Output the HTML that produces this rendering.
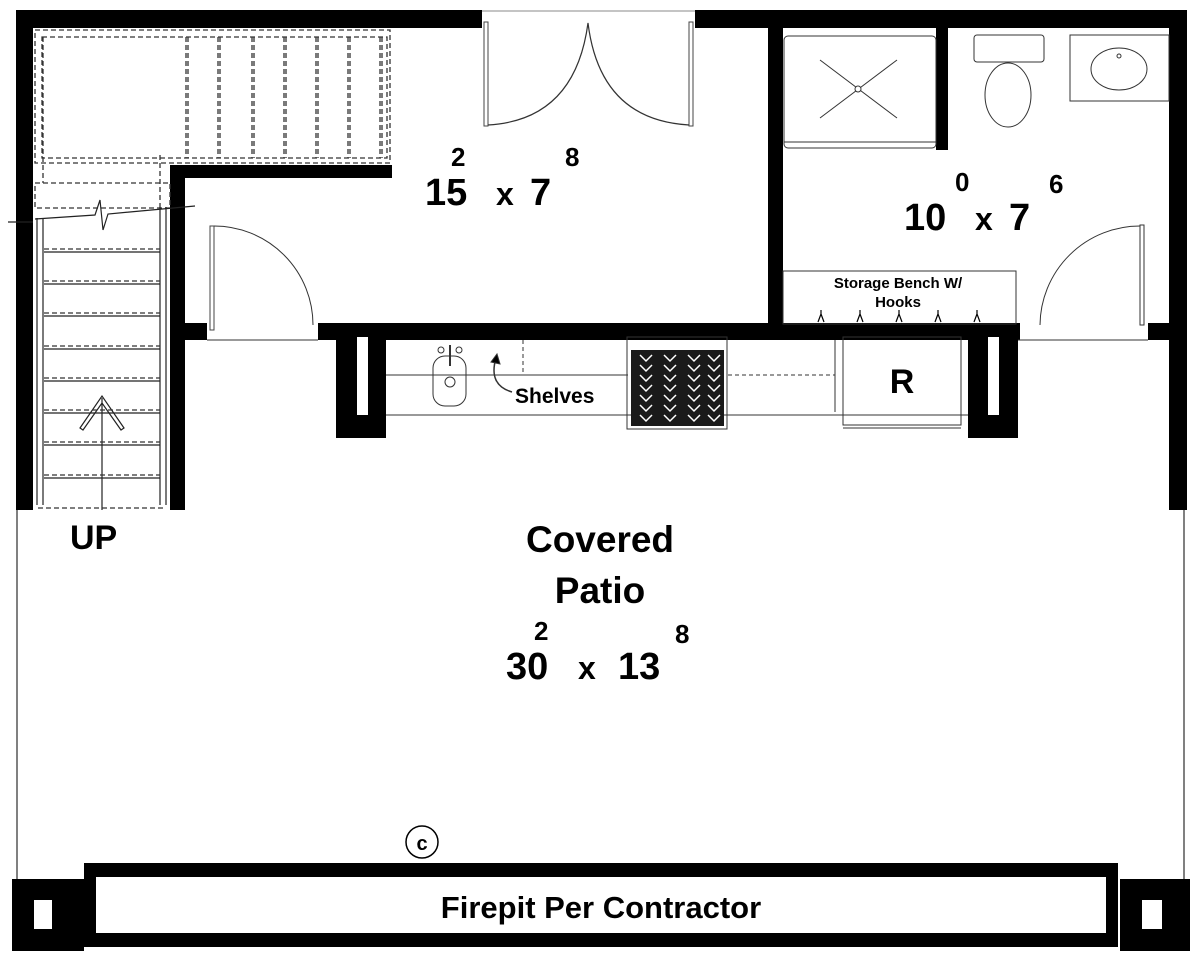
<!DOCTYPE html>
<html><head><style>
html,body{margin:0;padding:0;background:#fff}
svg{display:block}
text{font-family:"Liberation Sans",Arial,sans-serif;font-weight:bold;fill:#000}
</style></head><body>
<svg width="1200" height="962" viewBox="0 0 1200 962" xmlns="http://www.w3.org/2000/svg">
<line x1="17" y1="500" x2="17" y2="880" stroke="#000" stroke-width="1"/>
<line x1="1184" y1="500" x2="1184" y2="880" stroke="#000" stroke-width="1"/>
<rect x="16" y="10" width="466" height="18" fill="#000"/>
<rect x="695" y="10" width="492" height="18" fill="#000"/>
<rect x="16" y="10" width="17" height="500" fill="#000"/>
<rect x="1169" y="10" width="18" height="500" fill="#000"/>
<line x1="482" y1="11" x2="695" y2="11" stroke="#888" stroke-width="1"/>
<rect x="484" y="22" width="4" height="104" fill="none" stroke="#444" stroke-width="1"/>
<rect x="689" y="22" width="4" height="104" fill="none" stroke="#444" stroke-width="1"/>
<path d="M488 125 Q575 120 588 23 Q600 120 689 125" fill="none" stroke="#333" stroke-width="1.2"/>
<rect x="170" y="165" width="15" height="345" fill="#000"/>
<rect x="170" y="165" width="222" height="13" fill="#000"/>
<g fill="none" stroke="#333" stroke-width="1.3" stroke-dasharray="5,3">
<rect x="35" y="30" width="355" height="133"/>
<rect x="42" y="37" width="345" height="121"/>
<rect x="35" y="183" width="135" height="25"/>
<line x1="43" y1="37" x2="43" y2="183"/>
<line x1="160" y1="155" x2="160" y2="210"/>
<line x1="186" y1="37" x2="186" y2="158"/><line x1="188" y1="37" x2="188" y2="158"/>
<line x1="218" y1="37" x2="218" y2="158"/><line x1="220" y1="37" x2="220" y2="158"/>
<line x1="252" y1="37" x2="252" y2="158"/><line x1="254" y1="37" x2="254" y2="158"/>
<line x1="284" y1="37" x2="284" y2="158"/><line x1="286" y1="37" x2="286" y2="158"/>
<line x1="316" y1="37" x2="316" y2="158"/><line x1="318" y1="37" x2="318" y2="158"/>
<line x1="348" y1="37" x2="348" y2="158"/><line x1="350" y1="37" x2="350" y2="158"/>
<line x1="380" y1="37" x2="380" y2="158"/><line x1="382" y1="37" x2="382" y2="158"/>
</g>
<g stroke="#222" stroke-width="1.2" fill="none">
<line x1="8" y1="222" x2="33" y2="222"/>
<path d="M35 219 L95 215 L100 200 L103 230 L108 214 L195 206"/>
<line x1="37" y1="218" x2="37" y2="505"/><line x1="43" y1="218" x2="43" y2="505"/>
<line x1="160" y1="207" x2="160" y2="505"/><line x1="166" y1="207" x2="166" y2="505"/>
<line x1="44" y1="252" x2="160" y2="252"/><line x1="44" y1="284" x2="160" y2="284"/>
<line x1="44" y1="316" x2="160" y2="316"/><line x1="44" y1="349" x2="160" y2="349"/>
<line x1="44" y1="381" x2="160" y2="381"/><line x1="44" y1="413" x2="160" y2="413"/>
<line x1="44" y1="445" x2="160" y2="445"/><line x1="44" y1="478" x2="160" y2="478"/>
<line x1="102" y1="398" x2="102" y2="510"/>
<path d="M80 428 L102 396 L124 428 L121 430 L102 403 L83 430 Z"/>
</g>
<g stroke="#333" stroke-width="1.2" stroke-dasharray="5,3">
<line x1="44" y1="249" x2="160" y2="249"/><line x1="44" y1="281" x2="160" y2="281"/>
<line x1="44" y1="313" x2="160" y2="313"/><line x1="44" y1="346" x2="160" y2="346"/>
<line x1="44" y1="378" x2="160" y2="378"/><line x1="44" y1="410" x2="160" y2="410"/>
<line x1="44" y1="442" x2="160" y2="442"/><line x1="44" y1="475" x2="160" y2="475"/>
<line x1="38" y1="508" x2="166" y2="508"/>
</g>
<rect x="183" y="323" width="24" height="17" fill="#000"/>
<rect x="210" y="226" width="4" height="104" fill="none" stroke="#444"/>
<path d="M214 226 A99 99 0 0 1 313 325" fill="none" stroke="#333" stroke-width="1"/>
<line x1="207" y1="340" x2="318" y2="340" stroke="#333"/>
<rect x="318" y="323" width="702" height="17" fill="#000"/>
<rect x="336" y="323" width="50" height="115" fill="#000"/>
<rect x="357" y="337" width="11" height="78" fill="#fff"/>
<rect x="968" y="323" width="50" height="115" fill="#000"/>
<rect x="988" y="337" width="11" height="78" fill="#fff"/>
<g stroke="#333" stroke-width="1" fill="none">
<line x1="386" y1="375" x2="628" y2="375"/>
<line x1="386" y1="415" x2="968" y2="415"/>
<line x1="523" y1="340" x2="523" y2="375" stroke-dasharray="4,3"/>
<line x1="728" y1="375" x2="835" y2="375" stroke-dasharray="4,3"/>
<line x1="835" y1="340" x2="835" y2="412"/>
<rect x="433" y="356" width="33" height="50" rx="12"/>
<circle cx="450" cy="382" r="5"/>
<line x1="450" y1="345" x2="450" y2="366" stroke-width="2"/>
<circle cx="441" cy="350" r="3"/><circle cx="459" cy="350" r="3"/>
<path d="M512 392 Q488 385 496 358" stroke-width="1.5"/>
<path d="M491 362 L497 354 L500 364 Z" fill="#000"/>
<rect x="627" y="337" width="100" height="92"/>
<rect x="843" y="337" width="118" height="88"/>
<line x1="843" y1="428" x2="961" y2="428"/>
<line x1="843" y1="415" x2="961" y2="415" stroke-dasharray="4,3"/>
</g>
<rect x="631" y="350" width="93" height="76" fill="#1a1a1a"/>
<g stroke="#fff" stroke-width="1.5" fill="none">
<path d="M640 355 l6 6 l6 -6 M640 365 l6 6 l6 -6 M640 375 l6 6 l6 -6 M640 385 l6 6 l6 -6 M640 395 l6 6 l6 -6 M640 405 l6 6 l6 -6 M640 415 l6 6 l6 -6"/>
<path d="M664 355 l6 6 l6 -6 M664 365 l6 6 l6 -6 M664 375 l6 6 l6 -6 M664 385 l6 6 l6 -6 M664 395 l6 6 l6 -6 M664 405 l6 6 l6 -6 M664 415 l6 6 l6 -6"/>
<path d="M688 355 l6 6 l6 -6 M688 365 l6 6 l6 -6 M688 375 l6 6 l6 -6 M688 385 l6 6 l6 -6 M688 395 l6 6 l6 -6 M688 405 l6 6 l6 -6 M688 415 l6 6 l6 -6"/>
<path d="M708 355 l6 6 l6 -6 M708 365 l6 6 l6 -6 M708 375 l6 6 l6 -6 M708 385 l6 6 l6 -6 M708 395 l6 6 l6 -6 M708 405 l6 6 l6 -6 M708 415 l6 6 l6 -6"/>
</g>
<text x="515" y="403" font-size="21">Shelves</text>
<text x="902" y="393" font-size="34" text-anchor="middle">R</text>
<rect x="768" y="28" width="15" height="297" fill="#000"/>
<rect x="936" y="28" width="12" height="122" fill="#000"/>
<g stroke="#333" stroke-width="1" fill="none">
<rect x="784" y="36" width="152" height="112" rx="4"/>
<line x1="784" y1="142" x2="936" y2="142"/>
<line x1="820" y1="60" x2="897" y2="118"/><line x1="897" y1="60" x2="820" y2="118"/>
<circle cx="858" cy="89" r="3" fill="#fff"/>
<rect x="974" y="35" width="70" height="27" rx="3"/>
<ellipse cx="1008" cy="95" rx="23" ry="32"/>
<rect x="1070" y="35" width="99" height="66"/>
<ellipse cx="1119" cy="69" rx="28" ry="21"/>
<circle cx="1119" cy="56" r="2"/>
<rect x="783" y="271" width="233" height="53"/>
<rect x="1140" y="225" width="4" height="100"/>
<path d="M1140 226 A100 100 0 0 0 1040 325"/>
<line x1="1018" y1="340" x2="1148" y2="340"/>
</g>
<g stroke="#000" stroke-width="1.2" fill="none">
<path d="M818 322 l3 -8 l3 8 M821 314 v-4"/><path d="M857 322 l3 -8 l3 8 M860 314 v-4"/>
<path d="M896 322 l3 -8 l3 8 M899 314 v-4"/><path d="M935 322 l3 -8 l3 8 M938 314 v-4"/>
<path d="M974 322 l3 -8 l3 8 M977 314 v-4"/>
</g>
<rect x="1148" y="323" width="39" height="17" fill="#000"/>
<text x="898" y="288" font-size="15" text-anchor="middle">Storage Bench W/</text>
<text x="898" y="307" font-size="15" text-anchor="middle">Hooks</text>
<text x="425" y="205" font-size="38">15</text>
<text x="451" y="166" font-size="26">2</text>
<text x="496" y="205" font-size="32">x</text>
<text x="530" y="205" font-size="38">7</text>
<text x="565" y="166" font-size="26">8</text>
<text x="904" y="230" font-size="38">10</text>
<text x="955" y="191" font-size="26">0</text>
<text x="975" y="230" font-size="32">x</text>
<text x="1009" y="230" font-size="38">7</text>
<text x="1049" y="193" font-size="26">6</text>
<text x="70" y="549" font-size="34">UP</text>
<text x="600" y="552" font-size="37" text-anchor="middle">Covered</text>
<text x="600" y="603" font-size="37" text-anchor="middle">Patio</text>
<text x="506" y="679" font-size="38">30</text>
<text x="534" y="640" font-size="26">2</text>
<text x="578" y="679" font-size="32">x</text>
<text x="618" y="679" font-size="38">13</text>
<text x="675" y="643" font-size="26">8</text>
<circle cx="422" cy="842" r="16" fill="none" stroke="#000" stroke-width="1.5"/>
<text x="422" y="850" font-size="20" text-anchor="middle">c</text>
<rect x="84" y="863" width="1034" height="84" fill="#000"/>
<rect x="96" y="877" width="1010" height="56" fill="#fff"/>
<rect x="12" y="879" width="72" height="72" fill="#000"/>
<rect x="34" y="900" width="18" height="29" fill="#fff"/>
<rect x="1120" y="879" width="70" height="72" fill="#000"/>
<rect x="1142" y="900" width="20" height="29" fill="#fff"/>
<text x="601" y="918" font-size="31" text-anchor="middle">Firepit Per Contractor</text>
</svg>
</body></html>
